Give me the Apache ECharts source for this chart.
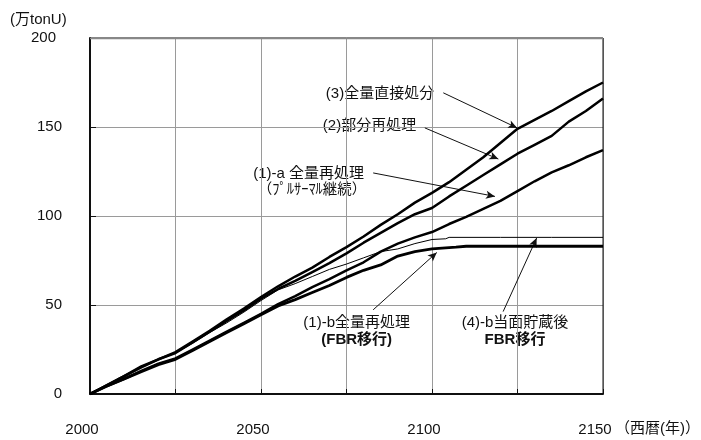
<!DOCTYPE html>
<html>
<head>
<meta charset="utf-8">
<script src="https://cdn.jsdelivr.net/npm/echarts@6/dist/echarts.min.js"></script>
<style>
html,body{margin:0;padding:0;background:#fff;}
#c{width:701px;height:440px;}
</style>
</head>
<body>
<div id="c"></div>
<script>
var years = [2000,2005,2010,2015,2020,2025,2030,2035,2040,2045,2050,2055,2060,2065,2070,2075,2080,2085,2090,2095,2100,2105,2110,2115,2120,2125,2130,2135,2140,2145,2150];
var direct3 = [0,5,10,15.5,19.5,23.5,29.5,35.5,42,48,54.5,60.5,66,71,77,82.5,88.5,95,101,107.5,113,119,126,133,141,149,154,159,164.5,170,175];
var partial2 = [0,5,10,15,19.5,23,29,35,41,47,53.5,59,63.5,68.5,73.5,79,85,90.5,96,101,104.5,111,117,123,129,135,140,145,153,159,166];
var pluthermal1a = [0,4.5,8.5,13,17,20,25,30,35,40,45,50.5,55,60,64.5,69.5,74,80,84.5,88,91,95.5,99.5,104,108.5,114,119.5,124.5,128.5,133,137];
var fbrYears = [2000,2005,2010,2015,2020,2025,2030,2035,2040,2045,2050,2055,2060,2065,2070,2075,2080,2085,2090,2095,2100,2103,2107,2110,2120,2130,2140,2150];
var fbr1b = [0,4.5,8.5,12.5,16.5,19.5,24.5,29.5,34.5,39.5,44.5,49.5,53,57,61,65.5,69.5,72.5,77.5,80,81.5,82,82.5,83,83,83,83,83];
var storeYears = [2000,2005,2010,2015,2020,2025,2030,2035,2040,2045,2050,2055,2060,2065,2070,2075,2080,2085,2090,2095,2100,2104,2105,2120,2135,2150];
var store4b = [0,5,10,15,19.5,23,28.5,34.5,40,46,52.5,58.5,62,66,70,73,76.5,80,81.5,84.5,86.8,87.2,88,88,88,88];
var xTickLabels = [2000,2050,2100,2150];
var yTicks = [0,50,100,150,200];

function pairs(xs, ys){ return xs.map(function(x,i){ return [x, ys[i]]; }); }

var FONT = '"Liberation Sans","Noto Sans CJK JP",sans-serif';
var chart = echarts.init(document.getElementById('c'), null, {renderer:'canvas'});

function arrowLine(a, b){
  return [{coord:a},{coord:b}];
}

var option = {
  backgroundColor:'#fff',
  animation:false,
  grid:{left:90, top:38, width:513, height:356, show:false},
  xAxis:{
    type:'value', min:2000, max:2150, interval:25,
    axisLine:{show:true, onZero:false, lineStyle:{color:'#111', width:2}},
    axisTick:{show:true, inside:true, length:5, lineStyle:{color:'#111', width:1}},
    splitLine:{show:true, lineStyle:{color:'#9a9a9a', width:1}},
    axisLabel:{
      margin:28, fontSize:15, color:'#111', fontFamily:FONT, padding:[0,16,0,0],
      formatter:function(v){ return xTickLabels.indexOf(v) >= 0 ? String(v) : ''; }
    }
  },
  yAxis:{
    type:'value', min:0, max:200, interval:50,
    axisLine:{show:true, lineStyle:{color:'#111', width:2}},
    axisTick:{show:true, inside:true, length:6, lineStyle:{color:'#111', width:1}},
    splitLine:{show:true, lineStyle:{color:'#9a9a9a', width:1}},
    axisLabel:{margin:28, fontSize:15, color:'#111', fontFamily:FONT,
      formatter:function(v){ return yTicks.indexOf(v) === yTicks.length-1 ? '{t|' + v + '}' : String(v); },
      rich:{t:{fontSize:15, fontFamily:FONT, color:'#111', padding:[0,6,0,0]}}
    }
  },
  graphic:[
    {type:'rect', shape:{x:90, y:38, width:513, height:356}, style:{fill:'none', stroke:'#111', lineWidth:1}, z:1, silent:true},
    {type:'line', shape:{x1:90, y1:38.5, x2:603, y2:38.5}, style:{stroke:'#888', lineWidth:1.5}, z:2},
    {type:'text', left:10, top:12, style:{text:'(万tonU)', fontSize:15, fontFamily:FONT, fill:'#111'}},
    {type:'text', left:615, top:421, style:{text:'（西暦(年)）', fontSize:15, fontFamily:FONT, fill:'#111'}},
    {type:'text', x:380, y:94, style:{text:'(3)全量直接処分', fontSize:15, fontFamily:FONT, fill:'#111', textAlign:'center', textVerticalAlign:'middle'}},
    {type:'text', x:369.5, y:126, style:{text:'(2)部分再処理', fontSize:15, fontFamily:FONT, fill:'#111', textAlign:'center', textVerticalAlign:'middle'}},
    {type:'text', x:308.7, y:173.5, style:{text:'(1)-a 全量再処理', fontSize:15, fontFamily:FONT, fill:'#111', textAlign:'center', textVerticalAlign:'middle'}},
    {type:'text', x:312, y:190, style:{text:'（ﾌﾟﾙｻｰﾏﾙ継続）', fontSize:14.5, fontFamily:FONT, fill:'#111', textAlign:'center', textVerticalAlign:'middle'}},
    {type:'text', x:356.7, y:322.5, style:{text:'(1)-b全量再処理', fontSize:15, fontFamily:FONT, fill:'#111', textAlign:'center', textVerticalAlign:'middle'}},
    {type:'text', x:356.7, y:340, style:{text:'(FBR移行)', fontSize:15, fontWeight:'bold', fontFamily:FONT, fill:'#111', textAlign:'center', textVerticalAlign:'middle'}},
    {type:'text', x:515, y:322.5, style:{text:'(4)-b当面貯蔵後', fontSize:15, fontFamily:FONT, fill:'#111', textAlign:'center', textVerticalAlign:'middle'}},
    {type:'text', x:515, y:340, style:{text:'FBR移行', fontSize:15, fontWeight:'bold', fontFamily:FONT, fill:'#111', textAlign:'center', textVerticalAlign:'middle'}}
  ],
  series:[
    {name:'(3)全量直接処分', type:'line', data:pairs(years, direct3), showSymbol:false, lineStyle:{color:'#000', width:2.5}, z:5,
      markLine:{silent:true, symbol:['none','arrow'], symbolSize:[6,9], label:{show:false},
        lineStyle:{color:'#111', width:1, type:'solid'},
        data:[
          arrowLine([2103.3,169.2],[2124.9,149.5]),
          arrowLine([2097.9,149.5],[2119.4,132.0]),
          arrowLine([2082.8,124.2],[2118.4,111.0]),
          arrowLine([2082.8,47.3],[2101.4,79.5]),
          arrowLine([2120.8,46.3],[2130.6,87.6])
        ]}
    },
    {name:'(2)部分再処理', type:'line', data:pairs(years, partial2), showSymbol:false, lineStyle:{color:'#000', width:2.5}, z:5},
    {name:'(1)-a', type:'line', data:pairs(years, pluthermal1a), showSymbol:false, lineStyle:{color:'#000', width:2.5}, z:5},
    {name:'(1)-b', type:'line', data:pairs(fbrYears, fbr1b), showSymbol:false, lineStyle:{color:'#000', width:2.8}, z:5},
    {name:'(4)-b', type:'line', data:pairs(storeYears, store4b), showSymbol:false, lineStyle:{color:'#000', width:1}, z:6}
  ]
};
chart.setOption(option);
</script>
</body>
</html>
